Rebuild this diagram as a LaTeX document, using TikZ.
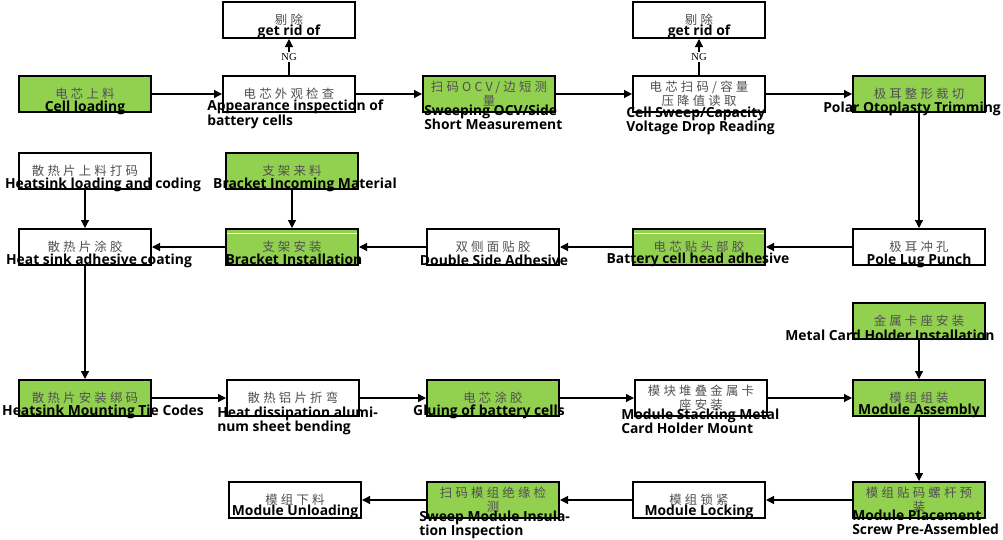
\documentclass[tikz,border=0pt]{standalone}
\usepackage{fontspec}
\setmainfont{Liberation Serif}
\newfontfamily\cnfont[LetterSpace=26]{Noto Sans CJK SC}
\newfontfamily\enfont{Open Sans}
\usetikzlibrary{arrows.meta,positioning,calc}
\definecolor{cellgreen}{RGB}{146,208,80}
\definecolor{cngray}{RGB}{80,80,80}

\tikzset{
  proc/.style={draw=black, line width=1.5pt, fill=white, minimum width=99pt, minimum height=27pt,
    inner sep=0pt, font=\cnfont\fontsize{9.3}{10.5}\selectfont, text=cngray, align=center},
  procg/.style={proc, fill=cellgreen},
  eng/.style={inner sep=0pt, font=\enfont\bfseries\fontsize{10.4}{10.6}\selectfont, align=left},
  flow/.style={-{Triangle[length=6pt,width=6pt]}, line width=0.9pt},
  nglab/.style={fill=white, inner sep=1pt, font=\fontsize{8}{8}\selectfont},
  gloss/.style={white, line width=0.6pt}
}

\begin{document}
\begin{tikzpicture}[x=0.75pt, y=-0.75pt]
  \useasboundingbox (0,0) rectangle (1003,539);

  % row 1: loading and inspection
  \node[procg] (cell)  at (85,94)  {电芯上料};
  \node[proc]  (look)  at (289,94) {电芯外观检查};
  \node[procg] (ocv)   at (489,94) {扫码OCV/边短测\\量};
  \node[proc]  (sweep) at (699,94) {电芯扫码/容量\\压降值读取};
  \node[procg] (polar) at (919,94) {极耳整形裁切};
  \node[proc]  (rida)  at (289,20) {剔除};
  \node[proc]  (ridb)  at (699,20) {剔除};

  \node[eng, anchor=base] (tcell) at (85,111) {Cell loading};
  \node[eng, anchor=north west] (tlook) at (207,100) {Appearance inspection of\\battery cells};
  \node[eng, anchor=north west] (tocv) at (424,105) {Sweeping OCV/Side\\Short Measurement};
  \node[eng, anchor=north west] (tsweep) at (626,107) {Cell Sweep/Capacity\\Voltage Drop Reading};
  \node[eng, anchor=base] (tpolar) at (912,112) {Polar Otoplasty Trimming};
  \node[eng, anchor=base] (trida) at (289,35) {get rid of};
  \node[eng, anchor=base] (tridb) at (699,35) {get rid of};

  % row 2 and 3: heatsink and bracket
  \node[proc]  (hsload)   at (85,171)  {散热片上料打码};
  \node[procg] (brin)     at (292,171) {支架来料};
  \node[proc]  (hsglue)   at (85,247)  {散热片涂胶};
  \node[procg] (brinst)   at (292,247) {支架安装};
  \node[proc]  (dside)    at (493,247) {双侧面贴胶};
  \node[procg] (headglue) at (699,247) {电芯贴头部胶};
  \node[proc]  (punch)    at (919,247) {极耳冲孔};
  \draw[gloss] ([xshift=1.5pt,yshift=-4pt]brinst.north west) -- ([xshift=-1.5pt,yshift=-4pt]brinst.north east);
  \draw[gloss] ([xshift=1.5pt,yshift=-4pt]headglue.north west) -- ([xshift=-1.5pt,yshift=-4pt]headglue.north east);

  \node[eng, anchor=base] (thsload) at (103,188) {Heatsink loading and coding};
  \node[eng, anchor=base] (tbrin) at (305,188) {Bracket Incoming Material};
  \node[eng, anchor=base] (thsglue) at (99,264) {Heat sink adhesive coating};
  \node[eng, anchor=base] (tbrinst) at (294,264) {Bracket Installation};
  \node[eng, anchor=base] (tdside) at (494,265) {Double Side Adhesive};
  \node[eng, anchor=base] (theadglue) at (698,263) {Battery cell head adhesive};
  \node[eng, anchor=base] (tpunch) at (919,264) {Pole Lug Punch};

  % row 4 and 5: mounting and assembly
  \node[procg] (metal)   at (919,321) {金属卡座安装};
  \node[procg] (hsmount) at (85,398)  {散热片安装绑码};
  \node[proc]  (bend)    at (293,398) {散热铝片折弯};
  \node[procg] (glue)    at (493,398) {电芯涂胶};
  \node[proc]  (stack)   at (701,398) {模块堆叠金属卡\\座安装};
  \node[procg] (assy)    at (919,398) {模组组装};

  \node[eng, anchor=base] (tmetal) at (890,340) {Metal Card Holder Installation};
  \node[eng, anchor=base] (thsmount) at (103,415) {Heatsink Mounting Tie Codes};
  \node[eng, anchor=north west] (tbend) at (217,407) {Heat dissipation alumi-\\num sheet bending};
  \node[eng, anchor=base] (tglue) at (489,415) {Gluing of battery cells};
  \node[eng, anchor=north west] (tstack) at (621,409) {Module Stacking Metal\\Card Holder Mount};
  \node[eng, anchor=base] (tassy) at (919,414) {Module Assembly};

  % row 6: locking and unloading
  \node[proc]  (unload) at (295,500) {模组下料};
  \node[procg] (insul)  at (493,500) {扫码模组绝缘检\\测};
  \node[proc]  (lock)   at (699,500) {模组锁紧};
  \node[procg] (place)  at (919,500) {模组贴码螺杆预\\装};

  \node[eng, anchor=base] (tunload) at (295,515) {Module Unloading};
  \node[eng, anchor=north west] (tinsul) at (419,511) {Sweep Module Insula-\\tion Inspection};
  \node[eng, anchor=base] (tlock) at (699,515) {Module Locking};
  \node[eng, anchor=north west] (tplace) at (852,510) {Module Placement\\Screw Pre-Assembled};

  % flow
  \draw[flow] (cell) -- (look);
  \draw[flow] (look) -- (ocv);
  \draw[flow] (ocv) -- (sweep);
  \draw[flow] (sweep) -- (polar);
  \draw[flow] (look) -- node[nglab] (nga) {NG} (rida);
  \draw[flow] (sweep) -- node[nglab] (ngb) {NG} (ridb);
  \draw[flow] (polar) -- (punch);
  \draw[flow] (punch) -- (headglue);
  \draw[flow] (headglue) -- (dside);
  \draw[flow] (dside) -- (brinst);
  \draw[flow] (brinst) -- (hsglue);
  \draw[flow] (hsload) -- (hsglue);
  \draw[flow] (brin) -- (brinst);
  \draw[flow] (hsglue) -- (hsmount);
  \draw[flow] (hsmount) -- (bend);
  \draw[flow] (bend) -- (glue);
  \draw[flow] (glue) -- (stack);
  \draw[flow] (stack) -- (assy);
  \draw[flow] (metal) -- (assy);
  \draw[flow] (assy) -- (place);
  \draw[flow] (place) -- (lock);
  \draw[flow] (lock) -- (insul);
  \draw[flow] (insul) -- (unload);
\end{tikzpicture}
\end{document}
